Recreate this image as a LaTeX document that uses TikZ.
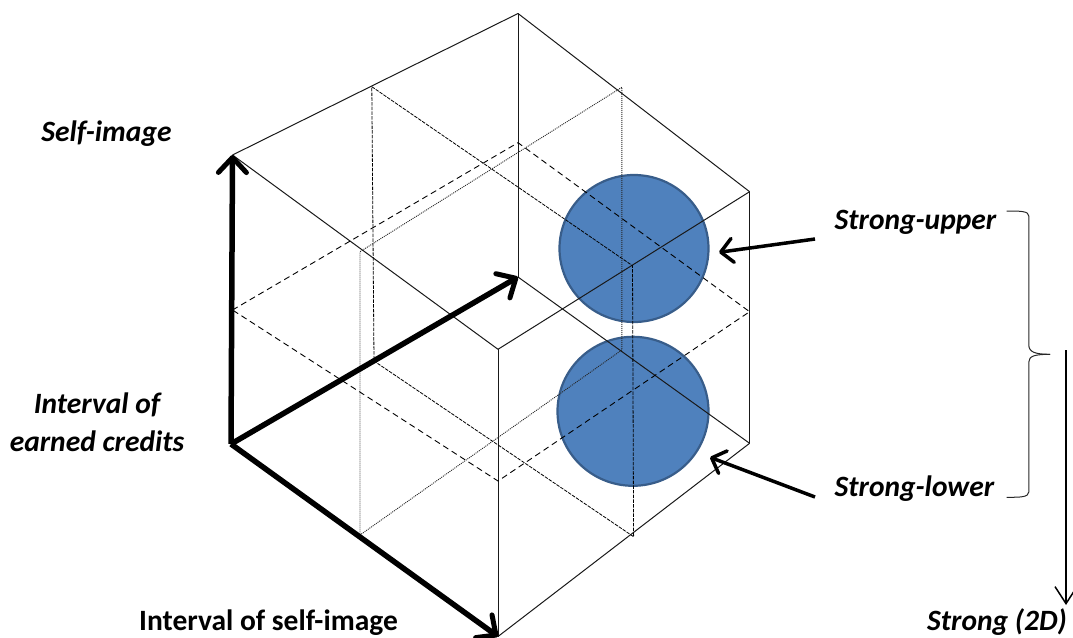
\documentclass[tikz,border=0pt]{standalone}
\usepackage{fontspec}
\setmainfont{Carlito}
\usetikzlibrary{arrows.meta,shapes.geometric}
\tikzset{
  edge/.style={draw=black!90,line width=1pt},
  thindash/.style={draw=black,line width=0.8pt,dash pattern=on 3.5pt off 1.2pt},
  middash/.style={draw=black,line width=0.9pt,dash pattern=on 6pt off 4pt},
  dotline/.style={draw=black!85,line width=0.9pt,dash pattern=on 1pt off 1pt},
  bigarrow/.style={draw=black,line width=5.5pt,-{Straight Barb[length=15pt,width=28pt,line width=5pt,round]}},
  midarrow/.style={draw=black,line width=3.5pt,-{Straight Barb[length=12pt,width=24pt,line width=3.5pt,round]}},
  slimarrow/.style={draw=black,line width=1.5pt,-{Straight Barb[length=17pt,width=22pt,line width=1.5pt]}},
  ball/.style={ellipse,draw=ballline,line width=2.2pt,fill=ballfill,inner sep=0pt},
  lab/.style={font=\fontsize{29.5}{38}\selectfont\bfseries\itshape,align=center,inner sep=0pt},
  labup/.style={font=\fontsize{29.5}{38}\selectfont\bfseries,inner sep=0pt}
}
\definecolor{ballfill}{HTML}{4F81BD}
\definecolor{ballline}{HTML}{385D8A}
\begin{document}
\begin{tikzpicture}[x=1pt,y=-1pt]
\useasboundingbox (0,0) rectangle (1073,637);
% cube vertices
\coordinate (A) at (518,13.5);
\coordinate (B) at (232.5,155);
\coordinate (C) at (749.6,191.7);
\coordinate (D) at (518,277);
\coordinate (E) at (498,349.3);
\coordinate (F) at (498,636.5);
\coordinate (G) at (231,444);
\coordinate (H) at (749.6,443.3);
% mid rhombus
\coordinate (ML) at (232.5,310);
\coordinate (MR) at (749.6,311.7);
\coordinate (MT) at (518,142.7);
\coordinate (MB) at (498,481);
% thin-dashed plane
\coordinate (P1) at (371.8,86.7);
\coordinate (P2) at (632.5,265.7);
\coordinate (P3) at (633.6,536.7);
\coordinate (P4) at (374,361);
% dotted plane
\coordinate (Q1) at (621.8,87.3);
\coordinate (Q2) at (360,251.7);
\coordinate (Q3) at (360,535);
\coordinate (Q4) at (621.8,350);
% balls
\node[ball,minimum width=149pt,minimum height=147pt] (up) at (634,248.5) {};
\node[ball,minimum width=151pt,minimum height=149pt] (low) at (633,411.3) {};
% cube
\draw[edge] (A) -- (B);
\draw[edge] (A) -- (C);
\draw[edge] (A) -- (D);
\draw[edge] (B) -- (E);
\draw[edge] (C) -- (E);
\draw[edge] (C) -- (H);
\draw[edge] (D) -- (H);
\draw[edge] (E) -- (F);
\draw[edge] (H) -- (F);
% planes
\draw[middash] (ML) -- (MT) -- (MR) -- (MB) -- cycle;
\draw[thindash] (P1) -- (P2) -- (P3) -- (P4) -- cycle;
\draw[dotline] (Q1) -- (Q2) -- (Q3) -- (Q4) -- cycle;
% axes
\draw[bigarrow] (G) -- (B);
\draw[bigarrow] (G) -- (D);
\draw[bigarrow] (G) -- (F);
% labels
\node[lab] (t1) at (106.5,134) {Self-image};
\node[lab] (t2) at (97,422) {Interval of\\earned credits};
\node[labup] (t3) at (268.5,622.5) {Interval of self-image};
\node[lab] (t4) at (915.5,222.5) {Strong-upper};
\node[lab] (t5) at (914.5,488.5) {Strong-lower};
\node[lab] (t6) at (997,622) {Strong (2D)};
% pointers
\coordinate (S1) at (815,239);
\coordinate (T1) at (719,252.3);
\coordinate (S2) at (815,497);
\coordinate (T2) at (710,457.3);
\draw[midarrow] (S1) -- (T1);
\draw[midarrow] (S2) -- (T2);
% brace
\coordinate (R1) at (1006.7,211);
\coordinate (R2) at (1006.7,497.3);
\coordinate (R3) at (1050,354.3);
\draw[draw=black!85,line width=1pt] (R1) .. controls (1020,211) and (1028.8,211) .. (1028.8,216)
  -- (1028.8,345) .. controls (1028.8,352) and (1035,354.3) .. (R3);
\draw[draw=black!85,line width=1pt] (R2) .. controls (1020,497.3) and (1028.8,497.3) .. (1028.8,492)
  -- (1028.8,362) .. controls (1028.8,356) and (1035,354.3) .. (R3);
\coordinate (V1) at (1066,350);
\coordinate (V2) at (1066,605);
\draw[slimarrow] (V1) -- (V2);
\end{tikzpicture}
\end{document}
